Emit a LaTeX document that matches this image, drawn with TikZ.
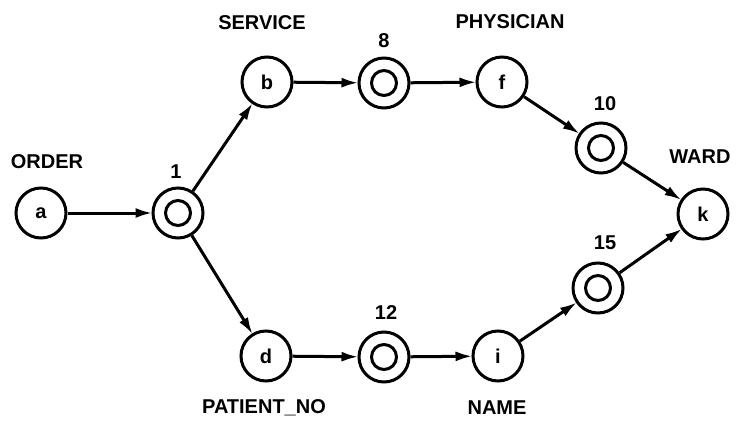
\documentclass[tikz,border=0pt]{standalone}
\usepackage{fontspec}
\setmainfont{Liberation Sans}
\usetikzlibrary{arrows.meta}
\begin{document}
\begin{tikzpicture}[x=1pt,y=-1pt,
  every node/.style={font=\fontsize{20}{24}\selectfont\bfseries},
  vtx/.style={circle,draw,line width=3pt,minimum size=50pt,inner sep=0pt},
  lbl/.style={inner sep=0pt},
  edge/.style={line width=3pt,-{Latex[length=17pt,width=10pt]},shorten >=-1pt}]
\useasboundingbox (0,0) rectangle (741,436);
% vertices
\node[vtx] (a) at (41,213) {a};
\node[vtx] (n1) at (178,213) {};
\node[vtx] (b) at (267,82) {b};
\node[vtx] (n8) at (384,83) {};
\node[vtx] (f) at (502,82) {f};
\node[vtx] (n10) at (601,148) {};
\node[vtx] (k) at (703,214) {k};
\node[vtx] (n15) at (598,288) {};
\node[vtx] (d) at (266,356) {d};
\node[vtx] (n12) at (384,357) {};
\node[vtx] (i) at (498,356) {i};
\foreach \n in {n1,n8,n10,n15,n12}
  \draw[line width=3pt] (\n.center) circle (12.5pt);
% labels
\node[lbl] (lorder) at (47,162) {ORDER};
\node[lbl] (l1) at (176,172) {1};
\node[lbl] (lservice) at (262,23) {SERVICE};
\node[lbl] (l8) at (384,41) {8};
\node[lbl] (lphys) at (510,22) {PHYSICIAN};
\node[lbl] (l10) at (605,104) {10};
\node[lbl] (lward) at (700,157) {WARD};
\node[lbl] (l15) at (605,243) {15};
\node[lbl] (l12) at (386,313) {12};
\node[lbl] (lpat) at (264,408) {PATIENT\_NO};
\node[lbl] (lname) at (497,408) {NAME};
% edges
\draw[edge] (a) -- (n1);
\draw[edge] (n1) -- (b);
\draw[edge] (n1) -- (d);
\draw[edge] (b) -- (n8);
\draw[edge] (n8) -- (f);
\draw[edge] (f) -- (n10);
\draw[edge] (n10) -- (k);
\draw[edge] (d) -- (n12);
\draw[edge] (n12) -- (i);
\draw[edge] (i) -- (n15);
\draw[edge] (n15) -- (k);
\end{tikzpicture}
\end{document}
